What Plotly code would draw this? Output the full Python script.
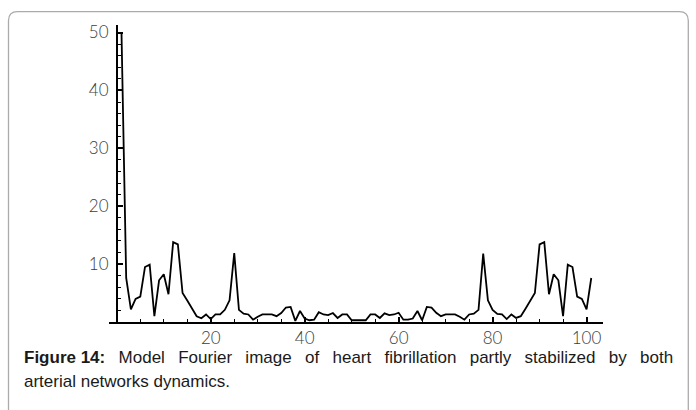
import plotly.graph_objects as go

# ---- data ----
freq = list(range(1, 102))
amplitude = [
    50.0, 7.6, 2.2, 4.0, 4.4, 9.5, 9.9, 1.0, 7.2, 8.25,
    4.8, 13.8, 13.4, 5.0, 3.7, 2.3, 1.0, 0.65, 1.3, 0.5,
    1.3, 1.3, 2.1, 3.75, 11.9, 2.1, 1.45, 1.3, 0.4, 0.9,
    1.3, 1.3, 1.3, 1.0, 1.55, 2.5, 2.6, 0.2, 1.9, 0.6,
    0.3, 0.4, 1.7, 1.3, 1.2, 1.55, 0.7, 1.3, 1.3, 0.3,
    0.3, 0.3, 0.3, 1.3, 1.3, 0.7, 1.5, 1.2, 1.3, 1.6,
    0.4, 0.4, 0.6, 1.9, 0.3, 2.6, 2.5, 1.6, 1.0, 1.3,
    1.3, 1.3, 0.9, 0.4, 1.3, 1.45, 2.1, 11.8, 3.75, 2.1,
    1.4, 1.3, 0.5, 1.3, 0.7, 1.0, 2.3, 3.7, 5.0, 13.4,
    13.8, 4.8, 8.25, 7.2, 1.0, 9.9, 9.5, 4.4, 4.0, 2.2,
    7.6,
]
x_tick_vals = [20, 40, 60, 80, 100]
y_tick_vals = [10, 20, 30, 40, 50]
caption_line1 = "<b>Figure 14:</b> Model Fourier image of heart fibrillation partly stabilized by both"
caption_line2 = "arterial networks dynamics."

# ---- layout geometry ----
W, H = 696, 410
ML, MR, MT, MB = 109, 93, 25, 88
PW, PH = W - ML - MR, H - MT - MB
X_RANGE = [-1.66, 103.5]
Y_RANGE = [0, 51.3]


def px_to_paper(px, py):
    return (px - ML) / PW, 1 - (py - MT) / PH


# rounded frame around the figure (decoration)
def frame_path(x0, y0, x1, y1, r):
    def P(px, py):
        u, v = px_to_paper(px, py)
        return f"{u:.5f},{v:.5f}"
    d = f"M {P(x0, y1)} L {P(x0, y0 + r)} Q {P(x0, y0)} {P(x0 + r, y0)} "
    d += f"L {P(x1 - r, y0)} Q {P(x1, y0)} {P(x1, y0 + r)} L {P(x1, y1)}"
    return d


fig = go.Figure()
fig.add_trace(go.Scatter(
    x=freq, y=amplitude, mode="lines",
    line=dict(color="black", width=1.8),
    showlegend=False, hoverinfo="skip", cliponaxis=False,
))

tick_font = dict(family="Lato, Liberation Sans, sans-serif", size=17, color="#3c3c3c", weight=300)

fig.update_layout(
    width=W, height=H,
    margin=dict(l=ML, r=MR, t=MT, b=MB, pad=0),
    paper_bgcolor="white", plot_bgcolor="white",
    xaxis=dict(
        range=X_RANGE, showgrid=False, zeroline=False,
        showline=True, linecolor="black", linewidth=1.6,
        tickvals=x_tick_vals, ticks="inside", ticklen=5, tickwidth=1.5,
        tickcolor="black", tickfont=tick_font, ticklabelstandoff=0,
        minor=dict(dtick=5, tick0=0, ticks="inside", ticklen=3, tickwidth=1.3,
                   tickcolor="black", showgrid=False),
    ),
    yaxis=dict(
        range=Y_RANGE, showgrid=False, zeroline=False,
        anchor="free", position=(0 - X_RANGE[0]) / (X_RANGE[1] - X_RANGE[0]),
        showline=True, linecolor="black", linewidth=1.6,
        tickvals=y_tick_vals, ticks="inside", ticklen=5, tickwidth=1.5,
        tickcolor="black", tickfont=tick_font, ticklabelstandoff=4,
        minor=dict(dtick=2, tick0=0, ticks="inside", ticklen=3, tickwidth=1.3,
                   tickcolor="black", showgrid=False),
    ),
)

fig.add_shape(type="path", xref="paper", yref="paper",
              path=frame_path(8.5, 11.7, 688.3, 430, 9),
              line=dict(color="#ababab", width=1.3), layer="below")

cap_font = dict(family="Liberation Sans, Arial, sans-serif", size=17, color="#1a1a1a")
# justified first line: widen inter-word gaps
gap = "\u2002\u2009\u200a"
line1_justified = caption_line1.replace(" ", gap).replace("<b>Figure" + gap + "14:</b>", "<b>Figure 14:</b>")
u1, v1 = px_to_paper(22, 358)
u2, v2 = px_to_paper(22, 381)
fig.add_annotation(text=line1_justified, x=u1, y=v1, xref="paper", yref="paper",
                   xanchor="left", yanchor="middle", showarrow=False, font=cap_font)
fig.add_annotation(text=caption_line2, x=u2, y=v2, xref="paper", yref="paper",
                   xanchor="left", yanchor="middle", showarrow=False, font=cap_font)

fig.write_html("out.html")
